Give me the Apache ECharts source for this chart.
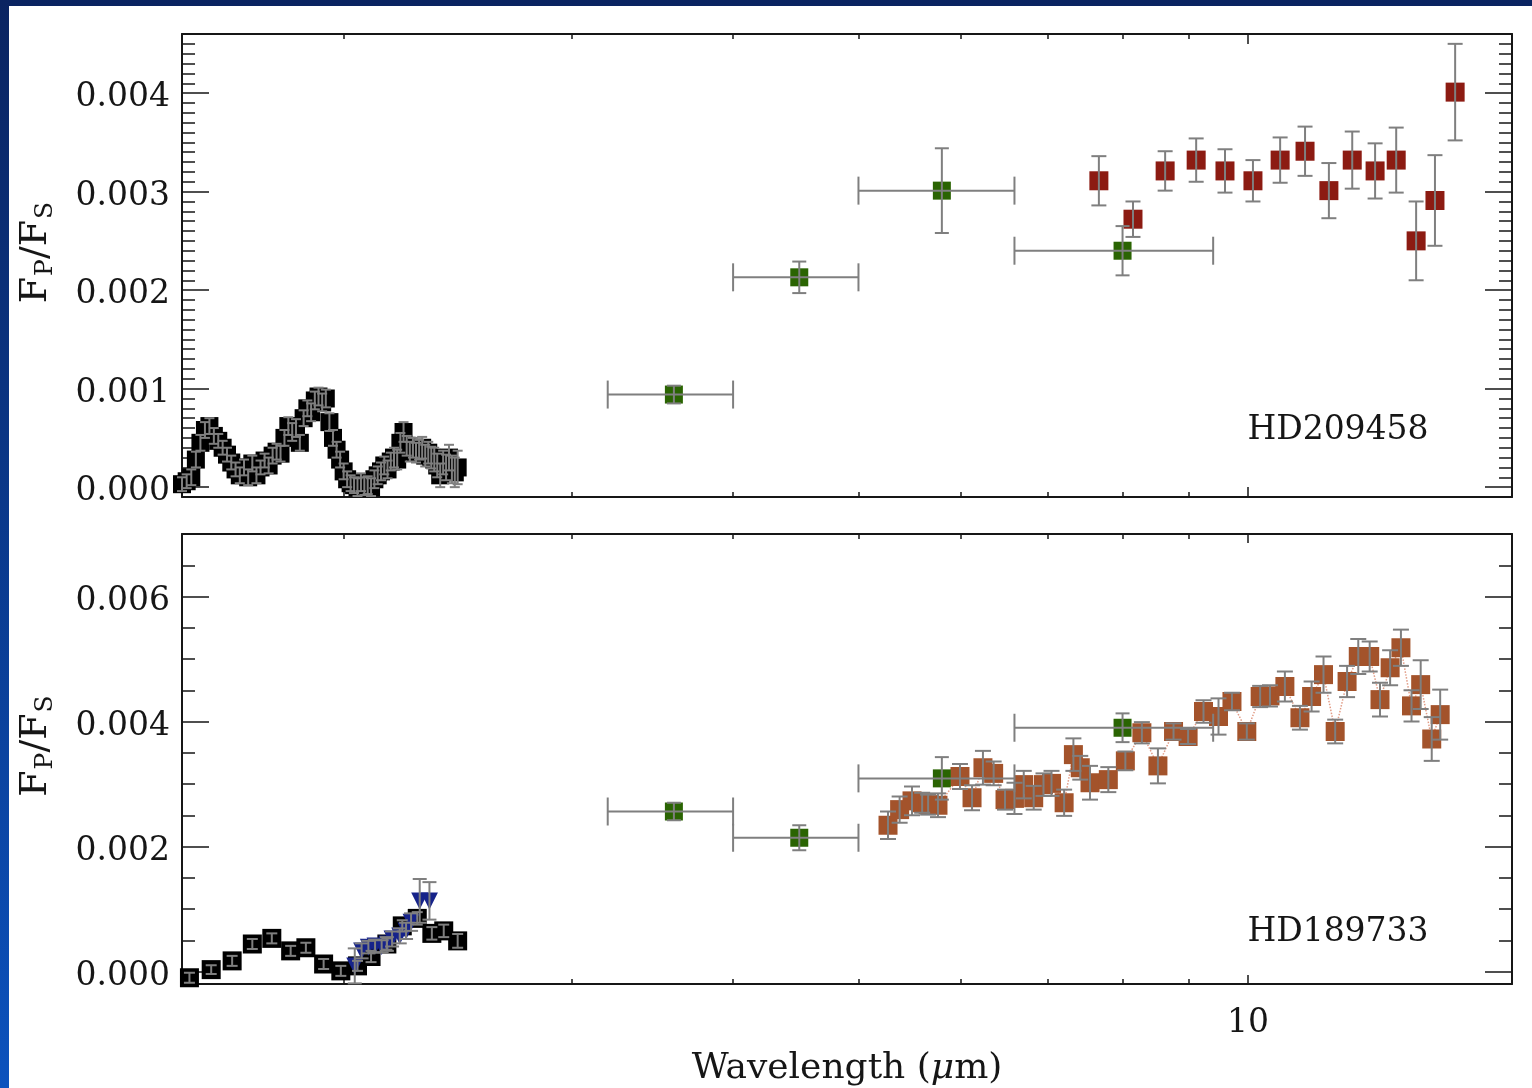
<!DOCTYPE html>
<html>
<head>
<meta charset="utf-8">
<script src="https://cdn.jsdelivr.net/npm/echarts@6/dist/echarts.min.js"></script>
<style>
  html, body { margin: 0; padding: 0; width: 1532px; height: 1088px; overflow: hidden;
    background: linear-gradient(180deg, #0a2461 0%, #0a3584 40%, #0c52bd 100%); }
  #sheet { position: absolute; left: 9px; top: 6px; right: 0; bottom: 0; background: #ffffff; }
  #chart { position: absolute; left: 0; top: 0; width: 1532px; height: 1088px; }
</style>
</head>
<body>
<div id="sheet"></div>
<div id="chart"></div>
<script>
// ---------------- HD209458b ----------------
// NICMOS spectrum (black squares)
const hd209NicmosWl = [1.5000, 1.5125, 1.5250, 1.5375, 1.5500, 1.5625, 1.5750, 1.5875, 1.6000, 1.6125,
  1.6250, 1.6375, 1.6500, 1.6625, 1.6750, 1.6875, 1.7000, 1.7125, 1.7250, 1.7375,
  1.7500, 1.7625, 1.7750, 1.7875, 1.8000, 1.8125, 1.8250, 1.8375, 1.8500, 1.8625,
  1.8750, 1.8875, 1.9000, 1.9125, 1.9250, 1.9375, 1.9500, 1.9625, 1.9750, 1.9875,
  2.0000, 2.0125, 2.0250, 2.0375, 2.0500, 2.0625, 2.0750, 2.0875, 2.1000, 2.1125,
  2.1250, 2.1375, 2.1500, 2.1625, 2.1750, 2.1875, 2.2000, 2.2125, 2.2250, 2.2375,
  2.2500, 2.2625, 2.2750, 2.2875, 2.3000, 2.3125, 2.3250, 2.3375, 2.3500, 2.3625,
  2.3750, 2.3875, 2.4000, 2.4125, 2.4250, 2.4375, 2.4500];
const hd209NicmosFp = [0.00003, 0.00006, 0.00010, 0.00028, 0.00045, 0.00058, 0.00062, 0.00052, 0.00047, 0.00040,
  0.00033, 0.00025, 0.00018, 0.00012, 0.00020, 0.00010, 0.00024, 0.00012, 0.00020, 0.00027,
  0.00022, 0.00032, 0.00036, 0.00034, 0.00050, 0.00062, 0.00056, 0.00060, 0.00045, 0.00070,
  0.00080, 0.00076, 0.00088, 0.00092, 0.00086, 0.00090, 0.00066, 0.00050, 0.00038, 0.00028,
  0.00016, 0.00008, 0.00004, 0.00002, 0.00000, 0.00005, 0.00001, 0.00002, 0.00000, 0.00008,
  0.00012, 0.00016, 0.00022, 0.00018, 0.00026, 0.00030, 0.00028, 0.00045, 0.00056, 0.00042,
  0.00036, 0.00040, 0.00035, 0.00038, 0.00040, 0.00032, 0.00035, 0.00030, 0.00028, 0.00022,
  0.00012, 0.00025, 0.00020, 0.00030, 0.00018, 0.00015, 0.00020];
const hd209NicmosErr = [0.00007, 0.00007, 0.00008, 0.00008, 0.00008, 0.00008, 0.00008, 0.00008, 0.00007, 0.00007,
  0.00007, 0.00007, 0.00007, 0.00008, 0.00008, 0.00008, 0.00008, 0.00008, 0.00007, 0.00007,
  0.00008, 0.00008, 0.00008, 0.00008, 0.00008, 0.00009, 0.00009, 0.00009, 0.00008, 0.00008,
  0.00008, 0.00009, 0.00009, 0.00009, 0.00009, 0.00009, 0.00009, 0.00008, 0.00008, 0.00008,
  0.00008, 0.00008, 0.00008, 0.00008, 0.00009, 0.00009, 0.00009, 0.00009, 0.00009, 0.00009,
  0.00009, 0.00009, 0.00009, 0.00009, 0.00009, 0.00010, 0.00010, 0.00010, 0.00010, 0.00010,
  0.00010, 0.00010, 0.00010, 0.00010, 0.00011, 0.00011, 0.00011, 0.00011, 0.00012, 0.00012,
  0.00012, 0.00012, 0.00013, 0.00013, 0.00014, 0.00015, 0.00017];

// IRAC photometry (green squares) with band widths
const iracWl = [3.6, 4.5, 5.8, 8.0];
const iracLo = [3.2, 4.0, 5.0, 6.6];
const iracHi = [4.0, 5.0, 6.6, 9.4];
const hd209IracFp = [0.00094, 0.00213, 0.00301, 0.00240];
const hd209IracErr = [0.00009, 0.00016, 0.00043, 0.00025];

// IRS spectrum (red squares)
const hd209IrsWl = [7.67, 8.15, 8.63, 9.12, 9.60, 10.09, 10.59, 11.07, 11.55, 12.04, 12.54, 13.02, 13.49, 13.95, 14.46];
const hd209IrsFp = [0.00311, 0.00272, 0.00321, 0.00332, 0.00321, 0.00311, 0.00332, 0.00341, 0.00301, 0.00332,
  0.00321, 0.00332, 0.00250, 0.00291, 0.00401];
const hd209IrsErr = [0.00025, 0.00018, 0.00020, 0.00022, 0.00022, 0.00021, 0.00023, 0.00025, 0.00028, 0.00029,
  0.00028, 0.00033, 0.00040, 0.00046, 0.00049];

// ---------------- HD189733b ----------------
// NICMOS spectrum (black squares)
const hd189NicmosWl = [1.52, 1.58, 1.64, 1.70, 1.76, 1.82, 1.87, 1.93, 1.99, 2.05, 2.10, 2.16, 2.22, 2.28, 2.34, 2.39, 2.45];
const hd189NicmosFp = [-0.00010, 0.00003, 0.00017, 0.00044, 0.00053, 0.00033, 0.00038, 0.00012, 0.00001, 0.00009,
  0.00024, 0.00044, 0.00073, 0.00085, 0.00061, 0.00065, 0.00049];
const hd189NicmosErr = [0.00008, 0.00007, 0.00008, 0.00008, 0.00008, 0.00008, 0.00008, 0.00008, 0.00008, 0.00008,
  0.00009, 0.00009, 0.00009, 0.00010, 0.00010, 0.00010, 0.00011];

// K-band spectrum (blue triangles)
const hd189KbandWl = [2.040, 2.065, 2.090, 2.115, 2.140, 2.160, 2.180, 2.210, 2.235, 2.255, 2.290, 2.330];
const hd189KbandFp = [0.00009, 0.00033, 0.00039, 0.00041, 0.00040, 0.00044, 0.00052, 0.00057, 0.00065, 0.00079, 0.00113, 0.00113];
const hd189KbandErr = [0.00028, 0.00012, 0.00010, 0.00010, 0.00010, 0.00011, 0.00012, 0.00012, 0.00013, 0.00014, 0.00035, 0.00030];

// IRAC photometry (green squares)
const hd189IracFp = [0.00256, 0.00214, 0.00309, 0.00390];
const hd189IracErr = [0.00014, 0.00020, 0.00034, 0.00023];

// IRS spectrum (brown squares)
const hd189IrsWl = [5.27, 5.38, 5.50, 5.60, 5.66, 5.76, 5.99, 6.12, 6.24, 6.36,
  6.49, 6.60, 6.71, 6.83, 6.95, 7.05, 7.21, 7.33, 7.42, 7.55,
  7.80, 8.04, 8.28, 8.52, 8.76, 8.99, 9.24, 9.49, 9.72, 9.98,
  10.22, 10.40, 10.68, 10.97, 11.20, 11.44, 11.68, 11.93, 12.17, 12.42,
  12.65, 12.88, 13.13, 13.38, 13.60, 13.87, 14.08];
const hd189IrsFp = [0.00234, 0.00259, 0.00273, 0.00270, 0.00267, 0.00266, 0.00312, 0.00278, 0.00326, 0.00317,
  0.00275, 0.00277, 0.00299, 0.00278, 0.00299, 0.00301, 0.00270, 0.00347, 0.00326, 0.00302,
  0.00307, 0.00337, 0.00382, 0.00329, 0.00384, 0.00376, 0.00416, 0.00408, 0.00432, 0.00384,
  0.00440, 0.00441, 0.00456, 0.00406, 0.00440, 0.00475, 0.00384, 0.00464, 0.00504, 0.00504,
  0.00435, 0.00486, 0.00518, 0.00425, 0.00459, 0.00372, 0.00411];
const hd189IrsErr = [0.00022, 0.00021, 0.00023, 0.00016, 0.00016, 0.00019, 0.00020, 0.00020, 0.00027, 0.00019,
  0.00016, 0.00025, 0.00022, 0.00019, 0.00018, 0.00020, 0.00021, 0.00026, 0.00019, 0.00027,
  0.00020, 0.00015, 0.00017, 0.00028, 0.00013, 0.00012, 0.00018, 0.00029, 0.00014, 0.00013,
  0.00017, 0.00017, 0.00024, 0.00019, 0.00024, 0.00029, 0.00019, 0.00025, 0.00028, 0.00024,
  0.00027, 0.00028, 0.00029, 0.00025, 0.00039, 0.00035, 0.00040];

// ---------------- axes ----------------
const X_MIN = 1.5, X_MAX = 16;
const xTickMajor = [10];
const xTickMinor = [2, 3, 4, 5, 6, 7, 8, 9];
const yTickTop = [0, 0.001, 0.002, 0.003, 0.004];
const yTickBottom = [0, 0.002, 0.004, 0.006];
const Y_TOP = [-0.0001, 0.0046];
const Y_BOTTOM = [-0.0002, 0.0070];

const panelNames = ['HD209458', 'HD189733'];

const FONT = '"DejaVu Serif", "Liberation Serif", serif';
const INK = '#161616';
const BAR = '#7f7f7f';
const RED = '#8c1b12';
const GREEN = '#2a6402';
const BROWN = '#a3532b';
const BLUE = '#16238a';

function minorTicks(lo, hi, step, majors) {
  const out = [];
  const n = Math.round((hi - lo) / step);
  for (let i = 0; i <= n; i++) {
    const v = +(lo + i * step).toFixed(6);
    if (!majors.some(m => Math.abs(m - v) < step / 10)) out.push(v);
  }
  return out;
}
const yMinorTop = minorTicks(0, 0.0045, 0.0001, yTickTop);
const yMinorBottom = minorTicks(0, 0.0065, 0.0005, yTickBottom);

const grids = [
  { left: 182, top: 34, width: 1330, height: 463 },
  { left: 182, top: 534, width: 1330, height: 451 }
];

const frameLine = { show: true, onZero: false, lineStyle: { color: INK, width: 2 } };
const noLine = { show: false, onZero: false };
const tickStyle = { color: INK, width: 1.5 };
const labelStyle = { fontFamily: FONT, fontSize: 33, color: INK };

function xAxesFor(gridIndex, withLabel) {
  const h = grids[gridIndex].height;
  const major = Math.round(h * 0.021), minor = Math.round(h * 0.0105);
  const base = { type: 'log', logBase: 10, gridIndex, min: X_MIN, max: X_MAX,
    splitLine: { show: false }, minorTick: { show: false }, axisPointer: { show: false } };
  const list = [];
  ['bottom', 'top'].forEach(pos => {
    const showLab = withLabel && pos === 'bottom';
    const main = Object.assign({}, base, {
      position: pos,
      axisLine: frameLine,
      axisTick: { show: true, inside: true, length: major, customValues: xTickMajor, lineStyle: tickStyle },
      axisLabel: { show: showLab, customValues: xTickMajor, margin: 23, formatter: v => String(Math.round(v)), ...labelStyle }
    });
    if (showLab) {
      Object.assign(main, {
        name: '{a|Wavelength (}{i|μ}{a|m)}',
        nameLocation: 'middle',
        nameGap: 67,
        nameTextStyle: { rich: {
          a: { fontFamily: FONT, fontSize: 36, color: INK },
          i: { fontFamily: FONT, fontSize: 36, color: INK, fontStyle: 'italic' }
        } }
      });
    }
    list.push(main);
    list.push(Object.assign({}, base, {
      position: pos,
      axisLine: noLine,
      axisTick: { show: true, inside: true, length: minor, customValues: xTickMinor, lineStyle: tickStyle },
      axisLabel: { show: false }
    }));
  });
  return list;
}

function yAxesFor(gridIndex, range, majors, minors) {
  const w = grids[gridIndex].width;
  const major = Math.round(w * 0.02), minor = Math.round(w * 0.0098);
  const base = { type: 'value', gridIndex, min: range[0], max: range[1],
    splitLine: { show: false }, minorTick: { show: false }, axisPointer: { show: false } };
  const list = [];
  ['left', 'right'].forEach(pos => {
    const main = Object.assign({}, base, {
      position: pos,
      axisLine: frameLine,
      axisTick: { show: true, inside: true, length: major, customValues: majors, lineStyle: tickStyle },
      axisLabel: { show: pos === 'left', customValues: majors, margin: 12,
        formatter: v => '{v|' + v.toFixed(3) + '}',
        rich: { v: { fontFamily: FONT, fontSize: 33, color: INK, lineHeight: 33, padding: [9, 0, 0, 0] } },
        ...labelStyle }
    });
    if (pos === 'left') {
      Object.assign(main, {
        name: '{f0|F}{s|P}{f|/F}{s|S}',
        nameLocation: 'middle',
        nameRotate: 90,
        nameGap: 124,
        nameTextStyle: { rich: {
          f0: { fontFamily: FONT, fontSize: 38, color: INK, lineHeight: 44, padding: [0, 0, 0, 26] },
          f: { fontFamily: FONT, fontSize: 38, color: INK, lineHeight: 44 },
          s: { fontFamily: FONT, fontSize: 25, color: INK, lineHeight: 25, padding: [19, 0, 0, 1], verticalAlign: 'top' }
        } }
      });
    }
    list.push(main);
    list.push(Object.assign({}, base, {
      position: pos,
      axisLine: noLine,
      axisTick: { show: true, inside: true, length: minor, customValues: minors, lineStyle: tickStyle },
      axisLabel: { show: false }
    }));
  });
  return list;
}

const xAxis = [...xAxesFor(0, false), ...xAxesFor(1, true)];   // 0..3 top panel, 4..7 bottom panel
const yAxis = [...yAxesFor(0, Y_TOP, yTickTop, yMinorTop), ...yAxesFor(1, Y_BOTTOM, yTickBottom, yMinorBottom)];

// ---------------- series helpers ----------------
function points(wl, fp) { return wl.map((w, i) => [w, fp[i]]); }
function errRows(wl, fp, err, lo, hi) {
  return wl.map((w, i) => [w, fp[i], fp[i] - err[i], fp[i] + err[i], lo ? lo[i] : w, hi ? hi[i] : w]);
}

function errorBarRenderer(capY, capX) {
  return function (params, api) {
    const x = api.value(0), y = api.value(1);
    const c = api.coord([x, y]);
    const style = { stroke: BAR, lineWidth: 2 };
    const seg = (x1, y1, x2, y2) => ({ type: 'line', shape: { x1, y1, x2, y2 }, style });
    const lo = api.coord([x, api.value(2)]);
    const hi = api.coord([x, api.value(3)]);
    const kids = [
      seg(c[0], lo[1], c[0], hi[1]),
      seg(c[0] - capY / 2, lo[1], c[0] + capY / 2, lo[1]),
      seg(c[0] - capY / 2, hi[1], c[0] + capY / 2, hi[1])
    ];
    const xl = api.value(4), xh = api.value(5);
    if (xl !== xh) {
      const l = api.coord([xl, y]), r = api.coord([xh, y]);
      kids.push(seg(l[0], c[1], r[0], c[1]));
      kids.push(seg(l[0], c[1] - capX / 2, l[0], c[1] + capX / 2));
      kids.push(seg(r[0], c[1] - capX / 2, r[0], c[1] + capX / 2));
    }
    return { type: 'group', children: kids };
  };
}

function markers(panel, data, color, symbol, size, rotate) {
  return {
    type: 'scatter', xAxisIndex: panel * 4, yAxisIndex: panel * 4,
    data, symbol, symbolSize: size, symbolRotate: rotate || 0,
    itemStyle: { color, opacity: 1 }, z: 3, silent: true
  };
}
function bars(panel, data, capY, capX) {
  return {
    type: 'custom', xAxisIndex: panel * 4, yAxisIndex: panel * 4,
    data, renderItem: errorBarRenderer(capY, capX || 0),
    encode: { x: 0, y: 1 }, z: 4, silent: true
  };
}

const series = [
  // HD209458b
  markers(0, points(hd209NicmosWl, hd209NicmosFp), '#000000', 'rect', 18),
  bars(0, errRows(hd209NicmosWl, hd209NicmosFp, hd209NicmosErr), 10),
  markers(0, points(iracWl, hd209IracFp), GREEN, 'rect', 18),
  bars(0, errRows(iracWl, hd209IracFp, hd209IracErr, iracLo, iracHi), 14, 28),
  markers(0, points(hd209IrsWl, hd209IrsFp), RED, 'rect', 19),
  bars(0, errRows(hd209IrsWl, hd209IrsFp, hd209IrsErr), 15),

  // HD189733b
  markers(1, points(hd189NicmosWl, hd189NicmosFp), '#000000', 'rect', 19),
  bars(1, errRows(hd189NicmosWl, hd189NicmosFp, hd189NicmosErr), 11),
  {
    type: 'line', xAxisIndex: 4, yAxisIndex: 4, data: points(hd189IrsWl, hd189IrsFp),
    symbol: 'none', lineStyle: { type: 'dotted', color: '#dc8a70', width: 1.5, opacity: 0.85 }, z: 2, silent: true
  },
  markers(1, points(hd189IrsWl, hd189IrsFp), BROWN, 'rect', 19),
  bars(1, errRows(hd189IrsWl, hd189IrsFp, hd189IrsErr), 16),
  markers(1, points(iracWl, hd189IracFp), GREEN, 'rect', 18),
  bars(1, errRows(iracWl, hd189IracFp, hd189IracErr, iracLo, iracHi), 14, 28),
  markers(1, points(hd189KbandWl, hd189KbandFp), BLUE, 'triangle', 17, 180),
  bars(1, errRows(hd189KbandWl, hd189KbandFp, hd189KbandErr), 14)
];

const chart = echarts.init(document.getElementById('chart'), null, { renderer: 'canvas' });
chart.setOption({
  animation: false,
  backgroundColor: 'transparent',
  grid: grids,
  xAxis,
  yAxis,
  series,
  graphic: panelNames.map((name, i) => ({
    type: 'text',
    x: 1338, y: i === 0 ? 430 : 932,
    style: { text: name, fontFamily: FONT, fontSize: 33, fill: INK, align: 'center', verticalAlign: 'middle' }
  }))
});
</script>
</body>
</html>
